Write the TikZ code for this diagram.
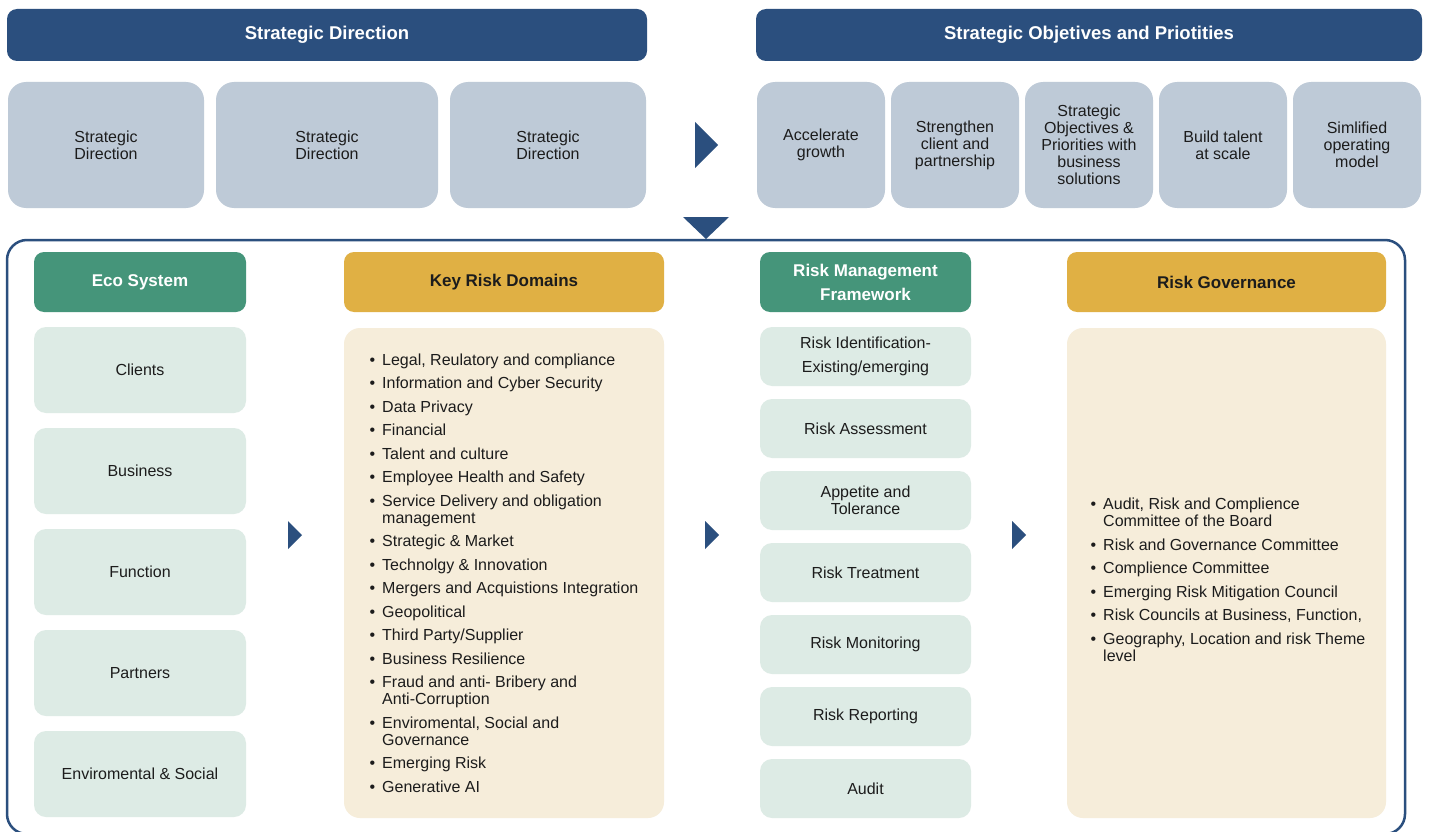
\documentclass[tikz,border=0pt]{standalone}
\usepackage{fontspec}
\setmainfont{Liberation Sans}
\usepackage{enumitem}
\definecolor{navy}{HTML}{2B4F7E}
\definecolor{slate}{HTML}{BECAD7}
\definecolor{grn}{HTML}{45957A}
\definecolor{lgrn}{HTML}{DDEBE5}
\definecolor{gold}{HTML}{E0B044}
\definecolor{cream}{HTML}{F6EDDA}
\definecolor{ink}{HTML}{1C1C1C}
\tikzset{
  hdr/.style={fill=navy, rounded corners=10pt, text=white, font=\fontsize{18.5}{22}\selectfont\bfseries, align=center, inner sep=0pt},
  topbox/.style={fill=slate, rounded corners=18pt, text=ink, font=\fontsize{16}{17}\selectfont, align=center, inner sep=0pt, minimum height=126pt},
  ghdr/.style={fill=grn, rounded corners=10pt, text=white, font=\fontsize{17}{24}\selectfont\bfseries, align=center, inner sep=0pt, minimum height=60pt},
  yhdr/.style={fill=gold, rounded corners=10pt, text=ink, font=\fontsize{17}{24}\selectfont\bfseries, align=center, inner sep=0pt, minimum height=60pt},
  gbox/.style={fill=lgrn, rounded corners=12pt, text=ink, font=\fontsize{16}{24}\selectfont, align=center, inner sep=0pt, minimum width=212pt},
  ybox/.style={fill=cream, rounded corners=16pt, inner sep=0pt, minimum width=320pt, minimum height=490pt},
  listtext/.style={text=ink, font=\fontsize{16}{17}\selectfont, inner sep=0pt, anchor=west},
  tri/.style={fill=navy},
}
\newcommand{\mylist}[1]{\begin{minipage}{300pt}\begin{itemize}[leftmargin=12pt,labelsep=7pt,itemsep=6.5pt,topsep=0pt,parsep=0pt,partopsep=0pt,label=\textbullet]#1\end{itemize}\end{minipage}}
\begin{document}
\begin{tikzpicture}[x=1pt,y=-1pt]
\useasboundingbox (0,0) rectangle (1429,832);
\fill[white] (0,0) rectangle (1429,832);
% top headers
\node[hdr, minimum width=640pt, minimum height=52pt] (sd) at (327,35) {Strategic Direction};
\node[hdr, minimum width=666pt, minimum height=52pt] (so) at (1089,35) {Strategic Objetives and Priotities};
% top boxes left
\node[topbox, minimum width=196pt] (d1) at (106,145) {Strategic\\Direction};
\node[topbox, minimum width=222pt] (d2) at (327,145) {Strategic\\Direction};
\node[topbox, minimum width=196pt] (d3) at (548,145) {Strategic\\Direction};
% top boxes right
\node[topbox, minimum width=128pt] (o1) at (821,145) {Accelerate\\growth};
\node[topbox, minimum width=128pt] (o2) at (955,145) {Strengthen\\client and\\partnership};
\node[topbox, minimum width=128pt] (o3) at (1089,145) {Strategic\\Objectives \&\\Priorities with\\business\\solutions};
\node[topbox, minimum width=128pt] (o4) at (1223,145) {Build talent\\at scale};
\node[topbox, minimum width=128pt] (o5) at (1357,145) {Simlified\\operating\\model};
% arrows
\fill[tri] (695,122) -- (718,145) -- (695,168) -- cycle;
\fill[tri] (683,217) -- (729,217) -- (706,239) -- cycle;
% frame
\begin{scope}
\clip (0,0) rectangle (1429,832);
\draw[navy, line width=2.5pt, rounded corners=20pt] (7,240) rectangle (1405,834);
\end{scope}
% Eco system
\node[ghdr, minimum width=212pt] (eco) at (140,282) {Eco System};
\node[gbox, minimum height=86pt] (e1) at (140,370) {Clients};
\node[gbox, minimum height=86pt] (e2) at (140,471) {Business};
\node[gbox, minimum height=86pt] (e3) at (140,572) {Function};
\node[gbox, minimum height=86pt] (e4) at (140,673) {Partners};
\node[gbox, minimum height=86pt] (e5) at (140,774) {Enviromental \& Social};
% Key risk domains
\node[yhdr, minimum width=320pt] (krd) at (504,282) {Key Risk Domains};
\node[ybox] (krdb) at (504,573) {};
\node[listtext] (krdl) at (370,573) {\mylist{
\item Legal, Reulatory and compliance
\item Information and Cyber Security
\item Data Privacy
\item Financial
\item Talent and culture
\item Employee Health and Safety
\item Service Delivery and obligation\newline management
\item Strategic \& Market
\item Technolgy \& Innovation
\item Mergers and Acquistions Integration
\item Geopolitical
\item Third Party/Supplier
\item Business Resilience
\item Fraud and anti- Bribery and\newline Anti-Corruption
\item Enviromental, Social and\newline Governance
\item Emerging Risk
\item Generative AI}};
% Risk management framework
\node[ghdr, minimum width=211pt] (rmf) at (865.5,282) {Risk Management\\Framework};
\node[gbox, minimum width=211pt, minimum height=59pt] (r1) at (865.5,356.5) {Risk Identification-\\Existing/emerging};
\node[gbox, minimum width=211pt, minimum height=59pt] (r2) at (865.5,428.5) {Risk Assessment};
\node[gbox, minimum width=211pt, minimum height=59pt, font=\fontsize{16}{17}\selectfont] (r3) at (865.5,500.5) {Appetite and\\Tolerance};
\node[gbox, minimum width=211pt, minimum height=59pt] (r4) at (865.5,572.5) {Risk Treatment};
\node[gbox, minimum width=211pt, minimum height=59pt] (r5) at (865.5,644.5) {Risk Monitoring};
\node[gbox, minimum width=211pt, minimum height=59pt] (r6) at (865.5,716.5) {Risk Reporting};
\node[gbox, minimum width=211pt, minimum height=59pt] (r7) at (865.5,788.5) {Audit};
% Risk governance
\node[yhdr, minimum width=319pt] (rg) at (1226.5,282) {Risk Governance};
\node[ybox, minimum width=319pt] (rgb) at (1226.5,573) {};
\node[listtext] (rgl) at (1091,580) {\mylist{
\item Audit, Risk and Complience\newline Committee of the Board
\item Risk and Governance Committee
\item Complience Committee
\item Emerging Risk Mitigation Council
\item Risk Councils at Business, Function,
\item Geography, Location and risk Theme\newline level}};
% small arrows
\fill[tri] (288,521) -- (302,535) -- (288,549) -- cycle;
\fill[tri] (705,521) -- (719,535) -- (705,549) -- cycle;
\fill[tri] (1012,521) -- (1026,535) -- (1012,549) -- cycle;
\end{tikzpicture}
\end{document}
